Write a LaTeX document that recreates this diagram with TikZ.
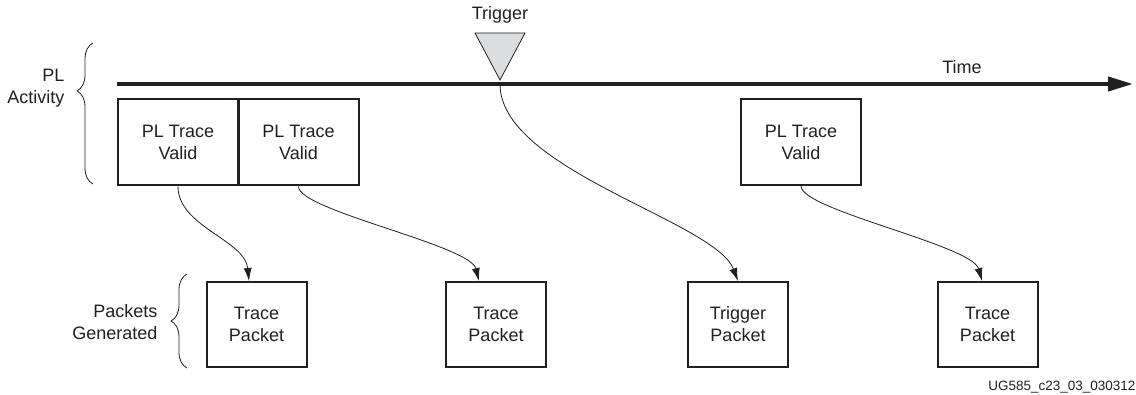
\documentclass[tikz,border=0pt]{standalone}
\usepackage{fontspec}
\setmainfont{Liberation Sans}
\usetikzlibrary{arrows.meta,decorations.pathreplacing,calc}
\definecolor{ink}{HTML}{231F20}
\definecolor{trifill}{HTML}{DCDDDE}
\begin{document}
\begin{tikzpicture}[x=1pt,y=-1pt,
  every node/.style={font=\fontsize{18}{22}\selectfont, text=ink},
  validbox/.style={draw=ink, line width=2pt, minimum width=120pt, minimum height=86pt, inner sep=0pt, align=center},
  pktbox/.style={draw=ink, line width=2pt, minimum width=100pt, minimum height=85pt, inner sep=0pt, align=center},
  conn/.style={draw=ink, line width=0.8pt, -{Latex[length=13pt,width=8pt]}},
  bracestyle/.style={draw=ink, line width=0.8pt, decorate, decoration={brace, amplitude=16pt, aspect=#1}},
  sidelabel/.style={anchor=east, align=right}
]
\useasboundingbox (0,0) rectangle (1136,395);

% time axis
\coordinate (t0) at (117,84);
\coordinate (t1) at (1133,84);
\coordinate (trig) at (500,84);
\draw[draw=ink, line width=4pt, -{Triangle[length=25pt,width=14pt]}] (t0) -- (t1);
\node (timel) at (962,67) {Time};

% trigger marker
\draw[draw=ink, fill=trifill, line width=0.8pt, line join=miter] (475,33) -- (525,33) -- (500,80) -- cycle;
\node (trigl) at (500,15) {Trigger};

% side labels and braces
\node[sidelabel] (pll) at (68,88) {PL\\Activity};
\draw[bracestyle=0.66] (93,184) -- (93,43);
\node[sidelabel] (pkl) at (161,322) {Packets\\Generated};
\draw[bracestyle=0.5] (187,368) -- (187,274);

% PL trace valid boxes
\node[validbox] (v1) at (178,142.5) {PL Trace\\Valid};
\node[validbox] (v2) at (298.5,142.5) {PL Trace\\Valid};
\node[validbox] (v3) at (801,142) {PL Trace\\Valid};

% packets
\node[pktbox] (p1) at (256.5,324.5) {Trace\\Packet};
\node[pktbox] (p2) at (496,324.5) {Trace\\Packet};
\node[pktbox] (p3) at (738,324.5) {Trigger\\Packet};
\node[pktbox] (p4) at (987.5,324.5) {Trace\\Packet};

% connectors
\draw[conn] (v1.south) .. controls +(0,40) and +(-4,-41) .. ($(p1.north)+(-7.5,0)$);
\draw[conn] (v2.south) .. controls +(0,24) and +(-9,-36) .. ($(p2.north)+(-17,0)$);
\draw[conn] (trig) .. controls +(0,86) and +(-23,-60) .. (p3.north);
\draw[conn] (v3.south) .. controls +(0,24) and +(-10,-36) .. ($(p4.north)+(-5.5,0)$);

% figure id
\node[font=\fontsize{13.5}{15}\selectfont, anchor=east] (figid) at (1139,387) {UG585\_c23\_03\_030312};
\end{tikzpicture}
\end{document}
